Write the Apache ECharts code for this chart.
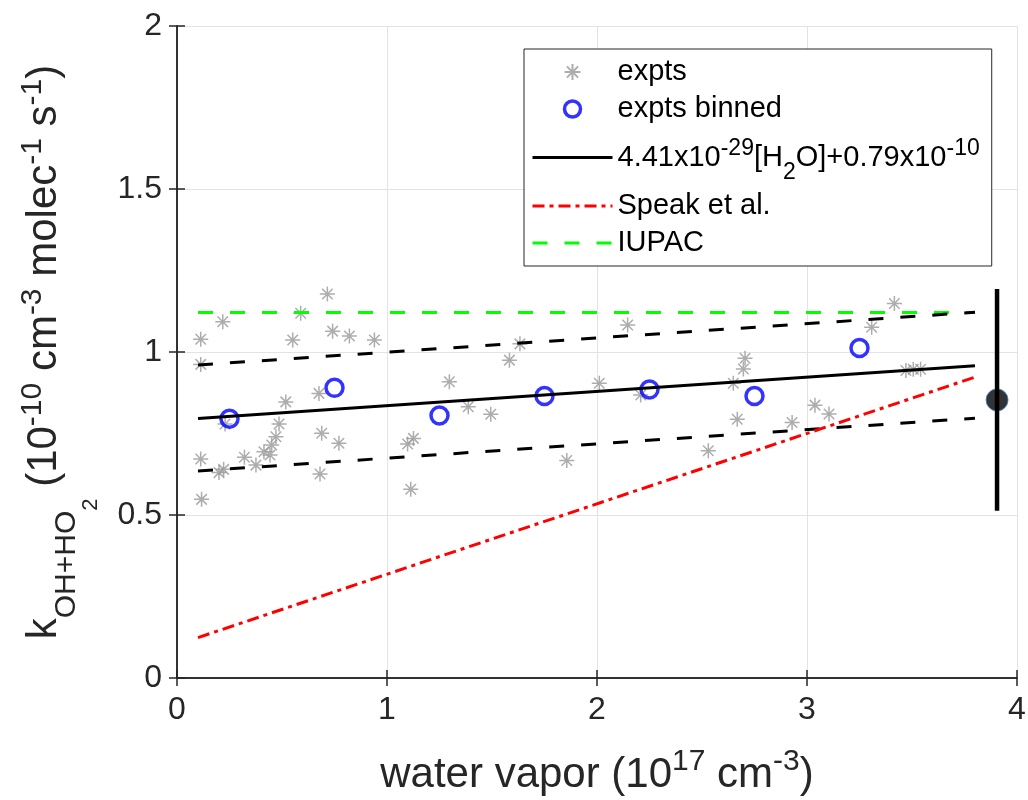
<!DOCTYPE html>
<html>
<head>
<meta charset="utf-8">
<script src="https://cdn.jsdelivr.net/npm/echarts@6/dist/echarts.min.js"></script>
<style>
html, body { margin: 0; padding: 0; background: #fff; }
#chart { width: 1028px; height: 800px; }
</style>
</head>
<body>
<div id="chart"></div>
<script>
// values (x in 1e17 cm-3, y in 1e-10 cm3 molec-1 s-1)
const exptsX = [0.113, 0.218, 0.716, 0.589, 0.551, 0.741, 0.821, 0.940, 0.113, 0.676, 0.518, 0.229, 0.486, 0.471, 0.451, 0.414, 0.443, 0.321, 0.376, 0.113, 0.200, 0.222, 0.117, 0.689, 0.771, 0.681, 1.297, 1.098, 1.126, 1.113, 1.387, 1.633, 1.583, 2.146, 1.494, 2.011, 2.208, 1.856, 2.649, 2.705, 2.697, 2.668, 2.530, 2.929, 3.038, 3.105, 3.308, 3.416, 3.471, 3.506, 3.541]
const exptsY = [1.039, 1.093, 1.178, 1.119, 1.037, 1.064, 1.049, 1.037, 0.962, 0.873, 0.847, 0.779, 0.779, 0.740, 0.715, 0.694, 0.684, 0.677, 0.653, 0.672, 0.630, 0.640, 0.548, 0.751, 0.720, 0.626, 0.909, 0.718, 0.735, 0.579, 0.832, 1.025, 0.975, 1.083, 0.809, 0.904, 0.868, 0.667, 0.904, 0.981, 0.948, 0.794, 0.697, 0.784, 0.837, 0.810, 1.076, 1.149, 0.943, 0.947, 0.947]
const binX = [0.25, 0.75, 1.25, 1.75, 2.25, 2.75, 3.25]
const binY = [0.795, 0.890, 0.805, 0.865, 0.885, 0.865, 1.012]
const lineX = [0.1, 3.8]
const fitY = [0.796, 0.958]
const upperY = [0.960, 1.122]
const lowerY = [0.635, 0.797]
const speakY = [0.124, 0.923]
const iupacY = [1.121, 1.121]
const errX = [3.905]
const errY = [0.853]
const errLow = [0.513]
const errHigh = [1.193]
const xTicks = [0, 1, 2, 3, 4]
const yTicks = [0, 0.5, 1, 1.5, 2]

const font = 'Liberation Sans, Arial, sans-serif'
const ink = '#262626'
const pairs = (xs, ys) => xs.map((x, i) => [x, ys[i]])
const asterisk = 'path://M0,-10L0,10M-10,0L10,0M-7,-7L7,7M-7,7L7,-7'
// hide the dot ECharts puts in the middle of line legend icons
const noDot = { color: 'rgba(0,0,0,0)', borderWidth: 0, opacity: 0 }

const chart = echarts.init(document.getElementById('chart'))

const axisBase = {
	axisLine: { show: true, lineStyle: { color: ink, width: 1.5 } },
	axisTick: { show: true, inside: true, length: 8, lineStyle: { color: ink, width: 1.5 } }
}

chart.setOption({
	animation: false,
	backgroundColor: '#fff',
	grid: { left: 177, right: 11, top: 26, bottom: 122, containLabel: false, outerBoundsMode: 'none' },
	xAxis: [
		{
			...axisBase,
			type: 'value',
			min: xTicks[0],
			max: xTicks[xTicks.length - 1],
			interval: 1,
			axisLabel: { color: ink, fontSize: 32, fontFamily: font, margin: 16 },
			splitLine: { show: true, lineStyle: { color: '#e3e3e3', width: 1 } },
			name: '{b|water vapor (10}{sup|17}{b| cm}{sup|-3}{b|)}',
			nameLocation: 'middle',
			nameGap: 69,
			nameTextStyle: {
				color: ink,
				fontFamily: font,
				rich: {
					b: { fontSize: 42, lineHeight: 56, fontFamily: font, color: ink },
					sup: { fontSize: 30, verticalAlign: 'top', fontFamily: font, color: ink }
				}
			}
		},
		{
			...axisBase,
			type: 'value',
			position: 'top',
			min: xTicks[0],
			max: xTicks[xTicks.length - 1],
			interval: 1,
			axisLabel: { show: false },
			splitLine: { show: false }
		}
	],
	yAxis: [
		{
			...axisBase,
			type: 'value',
			min: yTicks[0],
			max: yTicks[yTicks.length - 1],
			interval: 0.5,
			axisLabel: { color: ink, fontSize: 32, fontFamily: font, margin: 15 },
			splitLine: { show: true, lineStyle: { color: '#e3e3e3', width: 1 } },
			name: '{b|k}{sub|OH+HO}{sub2|2}{b| (10}{sup|-10}{b| cm}{sup|-3}{b| molec}{sup|-1}{b| s}{sup|-1}{b|)}',
			nameLocation: 'middle',
			nameRotate: 90,
			nameGap: 75,
			nameTextStyle: {
				color: ink,
				fontFamily: font,
				rich: {
					b: { fontSize: 42, lineHeight: 116, fontFamily: font, color: ink },
					sup: { fontSize: 30, verticalAlign: 'top', padding: [32, 0, 0, 0], fontFamily: font, color: ink },
					sub: { fontSize: 30, verticalAlign: 'bottom', padding: [0, 0, 20, 0], fontFamily: font, color: ink },
					sub2: { fontSize: 22, verticalAlign: 'bottom', fontFamily: font, color: ink }
				}
			}
		},
		{
			...axisBase,
			type: 'value',
			position: 'right',
			min: yTicks[0],
			max: yTicks[yTicks.length - 1],
			interval: 0.5,
			axisLabel: { show: false },
			splitLine: { show: false }
		}
	],
	legend: {
		left: 524,
		top: 49,
		orient: 'vertical',
		align: 'left',
		selectedMode: false,
		backgroundColor: '#fff',
		borderColor: ink,
		borderWidth: 1,
		borderRadius: 0,
		padding: [8, 12, 8, 7],
		itemGap: 7,
		itemWidth: 80,
		itemHeight: 16,
		lineStyle: { width: 3 },
		data: [
			{ name: 'expts' },
			{ name: 'expts binned', itemStyle: { borderWidth: 3.5 } },
			{ name: 'fit', itemStyle: noDot },
			{ name: 'Speak et al.', itemStyle: noDot },
			{ name: 'IUPAC', itemStyle: noDot }
		],
		formatter: function (name) {
			if (name === 'fit') {
				return '{b|4.41x10}{sup|-29}{b|[H}{sub|2}{b|O]+0.79x10}{sup|-10}'
			}
			return name
		},
		textStyle: {
			color: '#000',
			fontSize: 29,
			lineHeight: 30,
			fontFamily: font,
			rich: {
				b: { fontSize: 29, lineHeight: 53, fontFamily: font, color: '#000' },
				sup: { fontSize: 23, verticalAlign: 'top', padding: [6, 0, 0, 0], fontFamily: font, color: '#000' },
				sub: { fontSize: 23, verticalAlign: 'bottom', fontFamily: font, color: '#000' }
			}
		}
	},
	series: [
		{
			name: 'expts',
			type: 'scatter',
			data: pairs(exptsX, exptsY),
			symbol: asterisk,
			symbolSize: 15,
			itemStyle: { color: 'rgba(0,0,0,0)', borderColor: '#999999', borderWidth: 1.5 }
		},
		{
			name: 'IUPAC',
			type: 'line',
			data: pairs(lineX, iupacY),
			symbol: 'none',
			itemStyle: { color: '#00ff00' },
			lineStyle: { color: '#00ff00', width: 3, type: [15, 17] }
		},
		{
			name: 'upper',
			type: 'line',
			data: pairs(lineX, upperY),
			symbol: 'none',
			lineStyle: { color: '#000', width: 3, type: [15, 17] }
		},
		{
			name: 'lower',
			type: 'line',
			data: pairs(lineX, lowerY),
			symbol: 'none',
			lineStyle: { color: '#000', width: 3, type: [15, 17] }
		},
		{
			name: 'fit',
			type: 'line',
			data: pairs(lineX, fitY),
			symbol: 'none',
			itemStyle: { color: '#000' },
			lineStyle: { color: '#000', width: 3 }
		},
		{
			name: 'Speak et al.',
			type: 'line',
			data: pairs(lineX, speakY),
			symbol: 'none',
			itemStyle: { color: '#ff0000' },
			lineStyle: { color: '#ff0000', width: 3, type: [12, 5, 4, 5] }
		},
		{
			name: 'expts binned',
			type: 'scatter',
			data: pairs(binX, binY),
			symbol: 'circle',
			symbolSize: 17,
			itemStyle: { color: 'rgba(0,0,0,0)', borderColor: '#0000ff', borderWidth: 3.5 }
		},
		{
			name: 'errbar',
			type: 'line',
			data: [[errX[0], errLow[0]], [errX[0], errHigh[0]]],
			symbol: 'none',
			lineStyle: { color: '#000', width: 4.5 }
		},
		{
			name: 'errpoint',
			type: 'scatter',
			data: pairs(errX, errY),
			symbol: 'circle',
			symbolSize: 22,
			itemStyle: { color: '#000', borderColor: '#3b86d6', borderWidth: 1 }
		}
	]
})
</script>
</body>
</html>
